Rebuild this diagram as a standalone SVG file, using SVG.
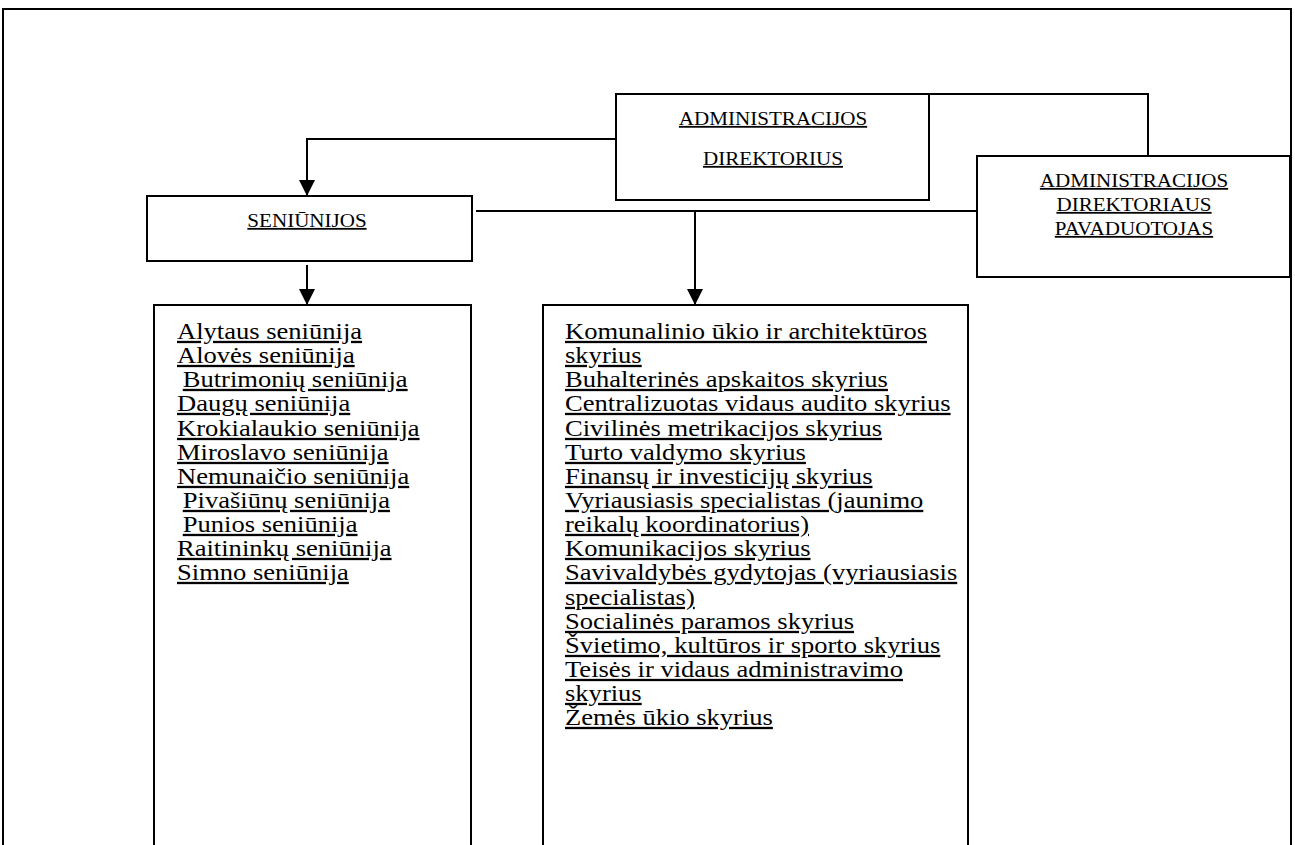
<svg xmlns="http://www.w3.org/2000/svg" width="1295" height="845" viewBox="0 0 1295 845">
<style>
  .box{fill:#fff;stroke:#000;stroke-width:2}
  .frame{fill:none;stroke:#000;stroke-width:2}
  .conn{fill:none;stroke:#000;stroke-width:2}
  .t{font-family:"Liberation Serif","Times New Roman",serif;fill:#000;text-decoration:underline}
  .h{font-size:18px}
  .l{font-size:23px}
</style>
<defs>
  <marker id="ah" markerUnits="userSpaceOnUse" markerWidth="16" markerHeight="17" refX="16" refY="8" orient="auto" viewBox="0 0 16 16">
    <path d="M0,0 L16,8 L0,16 Z" fill="#000"/>
  </marker>
</defs>
<rect width="1295" height="845" fill="#fff"/>
<path class="frame" d="M3,846 V9 H1291 V846"/>

<g id="connectors">
  <path class="conn" d="M616,139 H307 V196" marker-end="url(#ah)"/>
  <path class="conn" d="M929,94 H1148 V156"/>
  <path class="conn" d="M476,211 H977"/>
  <path class="conn" d="M695,211 V305" marker-end="url(#ah)"/>
  <path class="conn" d="M307,265 V305" marker-end="url(#ah)"/>
</g>

<g id="director">
  <rect class="box" x="616" y="94" width="313" height="106"/>
  <g transform="translate(773,0) scale(1.17,1)">
    <text class="t h" x="0" y="125" text-anchor="middle">ADMINISTRACIJOS</text>
    <text class="t h" x="0" y="165" text-anchor="middle">DIREKTORIUS</text>
  </g>
</g>

<g id="deputy">
  <rect class="box" x="977" y="156" width="313" height="121"/>
  <g transform="translate(1134,0) scale(1.17,1)">
    <text class="t h" x="0" y="187" text-anchor="middle">ADMINISTRACIJOS</text>
    <text class="t h" x="0" y="211" text-anchor="middle">DIREKTORIAUS</text>
    <text class="t h" x="0" y="235" text-anchor="middle">PAVADUOTOJAS</text>
  </g>
</g>

<g id="seniunijos">
  <rect class="box" x="147" y="196" width="325" height="65"/>
  <g transform="translate(307,0) scale(1.17,1)">
    <text class="t h" x="0" y="227" text-anchor="middle">SENIŪNIJOS</text>
  </g>
</g>

<g id="seniunijos-list">
  <rect class="box" x="154" y="305" width="317" height="560"/>
  <g transform="translate(177,0) scale(1.155,1)">
    <text class="t l" x="0" y="339">Alytaus seniūnija</text>
    <text class="t l" x="0" y="363">Alovės seniūnija</text>
    <text class="t l" x="5" y="387">Butrimonių seniūnija</text>
    <text class="t l" x="0" y="411">Daugų seniūnija</text>
    <text class="t l" x="0" y="436">Krokialaukio seniūnija</text>
    <text class="t l" x="0" y="460">Miroslavo seniūnija</text>
    <text class="t l" x="0" y="484">Nemunaičio seniūnija</text>
    <text class="t l" x="5" y="508">Pivašiūnų seniūnija</text>
    <text class="t l" x="5" y="532">Punios seniūnija</text>
    <text class="t l" x="0" y="556">Raitininkų seniūnija</text>
    <text class="t l" x="0" y="580">Simno seniūnija</text>
  </g>
</g>

<g id="skyriai-list">
  <rect class="box" x="543" y="305" width="425" height="560"/>
  <g transform="translate(565,0) scale(1.155,1)">
    <text class="t l" x="0" y="339">Komunalinio ūkio ir architektūros</text>
    <text class="t l" x="0" y="363">skyrius</text>
    <text class="t l" x="0" y="387">Buhalterinės apskaitos skyrius</text>
    <text class="t l" x="0" y="411">Centralizuotas vidaus audito skyrius</text>
    <text class="t l" x="0" y="436">Civilinės metrikacijos skyrius</text>
    <text class="t l" x="0" y="460">Turto valdymo skyrius</text>
    <text class="t l" x="0" y="484">Finansų ir investicijų skyrius</text>
    <text class="t l" x="0" y="508">Vyriausiasis specialistas (jaunimo</text>
    <text class="t l" x="0" y="532">reikalų koordinatorius)</text>
    <text class="t l" x="0" y="556">Komunikacijos skyrius</text>
    <text class="t l" x="0" y="580">Savivaldybės gydytojas (vyriausiasis</text>
    <text class="t l" x="0" y="605">specialistas)</text>
    <text class="t l" x="0" y="629">Socialinės paramos skyrius</text>
    <text class="t l" x="0" y="653">Švietimo, kultūros ir sporto skyrius</text>
    <text class="t l" x="0" y="677">Teisės ir vidaus administravimo</text>
    <text class="t l" x="0" y="701">skyrius</text>
    <text class="t l" x="0" y="725">Žemės ūkio skyrius</text>
  </g>
</g>
</svg>
